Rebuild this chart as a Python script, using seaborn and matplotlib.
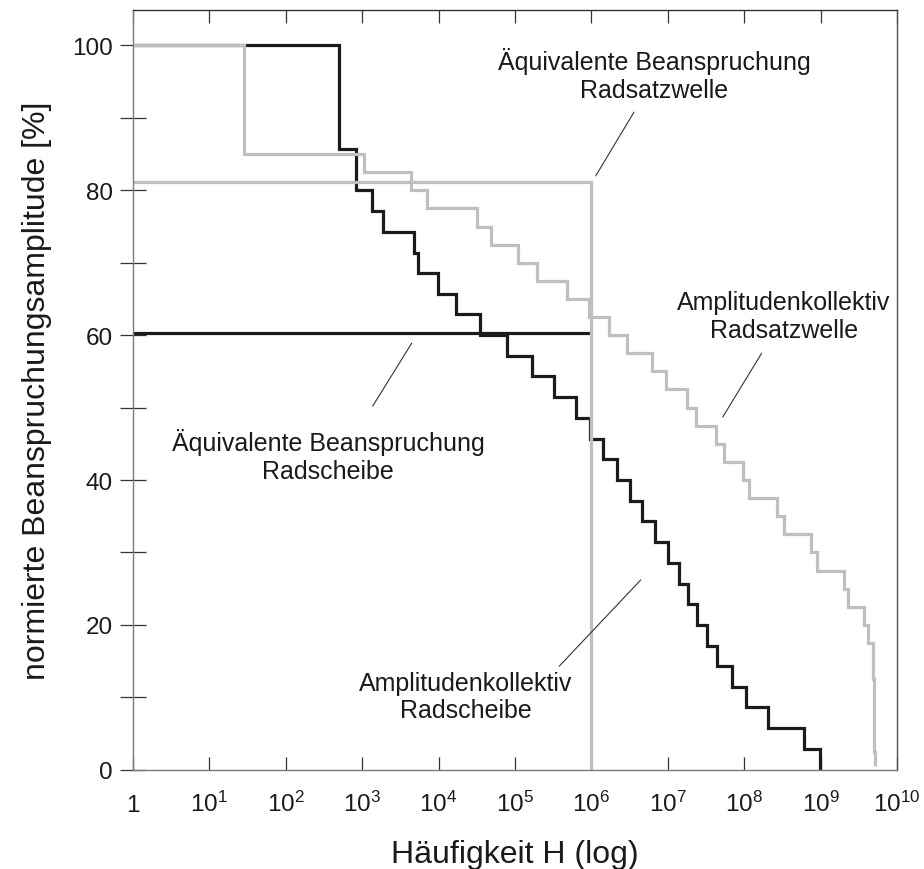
import matplotlib
matplotlib.use("Agg")
import matplotlib.pyplot as plt
import numpy as np
import pandas as pd
import seaborn as sns

# Amplitudenkollektiv Radscheibe: Stufenhöhe [%] und Häufigkeit H am Ende jeder Stufe
scheibe_levels = [100.0, 85.7, 80.0, 77.1, 74.3, 71.4, 68.6, 65.7, 62.9, 60.0,
                  57.1, 54.3, 51.4, 48.6, 45.7, 42.9, 40.0, 37.1, 34.3, 31.4,
                  28.6, 25.7, 22.9, 20.0, 17.1, 14.3, 11.4, 8.6, 5.7, 2.9]
scheibe_ends = [4.9e2, 8.2e2, 1.33e3, 1.85e3, 4.7e3, 5.4e3, 9.7e3, 1.69e4, 3.5e4, 7.85e4,
                1.69e5, 3.27e5, 6.2e5, 9.5e5, 1.41e6, 2.14e6, 3.2e6, 4.55e6, 6.8e6, 9.95e6,
                1.40e7, 1.86e7, 2.43e7, 3.29e7, 4.45e7, 6.86e7, 1.06e8, 2.03e8, 6.12e8, 9.8e8]
scheibe_final = 0.0

# Amplitudenkollektiv Radsatzwelle
welle_levels = [100.0, 85.0, 82.5, 80.0, 77.5, 75.0, 72.5, 70.0, 67.5, 65.0,
                62.5, 60.0, 57.5, 55.0, 52.5, 50.0, 47.5, 45.0, 42.5, 40.0,
                37.5, 35.0, 32.5, 30.0, 27.5, 25.0, 22.5, 20.0, 17.5, 12.5, 2.5]
welle_ends = [2.84e1, 1.06e3, 4.4e3, 7.0e3, 3.15e4, 4.8e4, 1.08e5, 1.92e5, 4.84e5, 9.4e5,
              1.71e6, 2.90e6, 6.15e6, 9.38e6, 1.77e7, 2.32e7, 4.24e7, 5.45e7, 9.55e7, 1.17e8,
              2.66e8, 3.35e8, 7.45e8, 8.89e8, 2.04e9, 2.26e9, 3.73e9, 4.13e9, 4.80e9, 5.07e9, 5.19e9]
welle_final = 0.5

# Äquivalente Beanspruchung (bei H = 10^6)
aeq_scheibe = 60.3
aeq_welle = 81.1
aeq_H = 1e6

H_min, H_max = 1.0, 1e10
x_tick_values = [1, 1e1, 1e2, 1e3, 1e4, 1e5, 1e6, 1e7, 1e8, 1e9, 1e10]
x_tick_labels = ["1"] + [r"$\mathdefault{10^{%d}}$" % k for k in range(1, 11)]
y_major = [0, 20, 40, 60, 80, 100]
y_minor = [10, 30, 50, 70, 90]

BLACK = "#1b1b1b"
GREY = "#bfbfc2"
LW = 2.3

sns.set_theme(style="white")
plt.rcParams["font.family"] = ["Liberation Sans", "DejaVu Sans"]
plt.rcParams["mathtext.default"] = "regular"


def step_frame(levels, ends, final):
    """Stufenzug: jede Stufe gilt von ihrem Anfang bis zum nächsten Eintrag."""
    H = [H_min] + list(ends)
    A = list(levels) + [final]
    return pd.DataFrame({"H": H, "A": A})


fig = plt.figure(figsize=(9.24, 8.70), dpi=100)
ax = fig.add_axes([133 / 924, 1 - 770.7 / 870, (897 - 133) / 924, (770.7 - 11) / 870])
ax.set_xscale("log")

line_kw = dict(estimator=None, sort=False, legend=False, ax=ax,
               solid_joinstyle="miter", solid_capstyle="butt")

# Radscheibe (schwarz)
eq_s = pd.DataFrame({"H": [H_min, aeq_H], "A": [aeq_scheibe, aeq_scheibe]})
sns.lineplot(data=eq_s, x="H", y="A", color=BLACK, lw=LW, **line_kw)
sns.lineplot(data=step_frame(scheibe_levels, scheibe_ends, scheibe_final), x="H", y="A",
             color=BLACK, lw=LW, drawstyle="steps-post", **line_kw)

# Radsatzwelle (grau)
eq_w = pd.DataFrame({"H": [H_min, aeq_H, aeq_H], "A": [aeq_welle, aeq_welle, 0.0]})
sns.lineplot(data=eq_w, x="H", y="A", color=GREY, lw=LW, **line_kw)
sns.lineplot(data=step_frame(welle_levels, welle_ends, welle_final), x="H", y="A",
             color=GREY, lw=LW, drawstyle="steps-post", **line_kw)

ax.set_xlim(H_min, H_max)
ax.set_ylim(0, 104.9)

# Achsen und Teilstriche
ax.set_xticks(x_tick_values)
ax.set_xticklabels(x_tick_labels)
ax.xaxis.set_minor_locator(matplotlib.ticker.NullLocator())
ax.set_yticks(y_major)
ax.set_yticklabels([str(v) for v in y_major])
ax.set_yticks(y_minor, minor=True)
ax.tick_params(axis="x", which="major", direction="in", length=9.5, width=0.9,
               color="#333333", top=True, bottom=True, labelsize=17.5, pad=29.8,
               labelcolor="#1a1a1a")
ax.tick_params(axis="y", which="both", direction="inout", length=19, width=0.9,
               color="#333333", left=True, right=False, labelsize=17.5, pad=5,
               labelcolor="#1a1a1a")
for lab in ax.get_xticklabels():
    lab.set_verticalalignment("baseline")

for side, col in (("left", "#7a7a7a"), ("bottom", "#7a7a7a"),
                  ("top", "#333333"), ("right", "#555555")):
    ax.spines[side].set_visible(True)
    ax.spines[side].set_color(col)
    ax.spines[side].set_linewidth(1.0)

ax.set_xlabel("Häufigkeit H (log)", fontsize=23, color="#1a1a1a")
ax.xaxis.set_label_coords(0.5, -0.1115)
ax.xaxis.label.set_verticalalignment("center")
ax.set_ylabel("normierte Beanspruchungsamplitude [%]", fontsize=23, color="#1a1a1a")
ax.yaxis.set_label_coords(-0.126, 0.5)
ax.yaxis.label.set_verticalalignment("center")

# Beschriftungen mit Hinweislinien
notes = [
    ("Äquivalente Beanspruchung\nRadsatzwelle", (6.6e6, 96.0), (3.61e6, 90.8), (1.14e6, 82.0)),
    ("Äquivalente Beanspruchung\nRadscheibe", (3.56e2, 43.4), (4.45e3, 58.9), (1.37e3, 50.2)),
    ("Amplitudenkollektiv\nRadsatzwelle", (3.32e8, 62.6), (1.69e8, 57.5), (5.24e7, 48.7)),
    ("Amplitudenkollektiv\nRadscheibe", (2.29e4, 10.1), (4.42e6, 26.2), (3.8e5, 14.3)),
]
for text, pos, p0, p1 in notes:
    ax.text(pos[0], pos[1], text, ha="center", va="center", fontsize=18,
            color="#1a1a1a", linespacing=1.2)
    ax.annotate("", xy=p1, xytext=p0,
                arrowprops=dict(arrowstyle="-", color="#333333", lw=0.8,
                                shrinkA=0, shrinkB=0))

fig.savefig("out.png", dpi=100, facecolor="white")
